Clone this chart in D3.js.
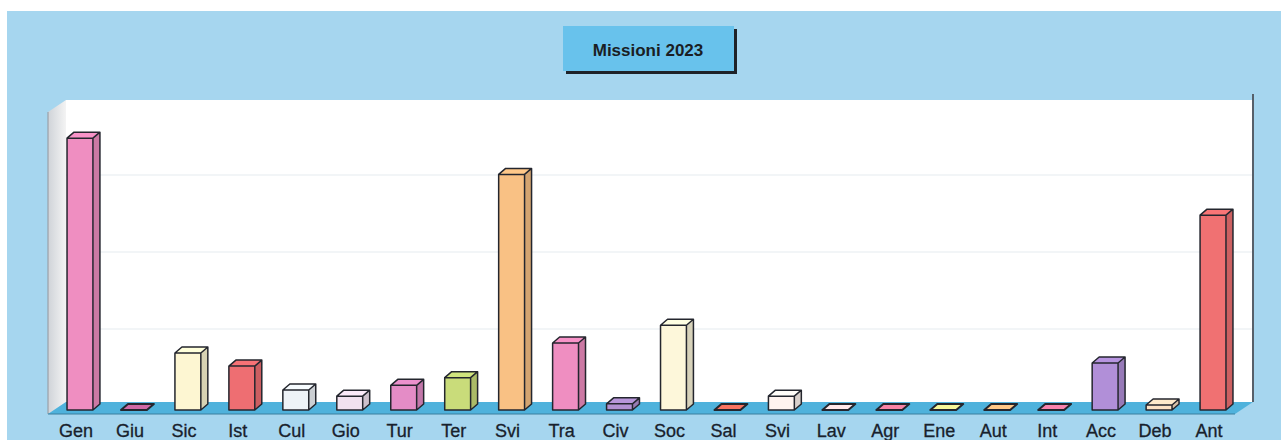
<!DOCTYPE html>
<html>
<head>
<meta charset="utf-8">
<script src="https://cdn.jsdelivr.net/npm/d3@7"></script>
<style>
  body { margin: 0; background: #fff; }
  svg { display: block; }
</style>
</head>
<body>
<div id="chart"></div>
<script>
// ----------------------------------------
// DATA
var categories = ["Gen", "Giu", "Sic", "Ist", "Cul", "Gio", "Tur", "Ter", "Svi", "Tra", "Civ",
  "Soc", "Sal", "Svi", "Lav", "Agr", "Ene", "Aut", "Int", "Acc", "Deb", "Ant"];
var values = [35.3, 0, 7.4, 5.7, 2.6, 1.8, 3.2, 4.2, 30.6, 8.7, 0.8,
  11, 0, 1.8, 0, 0, 0, 0, 0, 6.1, 0.65, 25.3];
var colors = ["#ef8ec1", "#c865a0", "#fdf6d2", "#ee6e72", "#eef3f8", "#f1e2f0", "#e48cc6", "#c9dc7a",
  "#f9c184", "#ef8ec1", "#b291d2", "#fdf7da", "#f0705e", "#fff4f0", "#fbe0e2", "#ef7fa0",
  "#eeee94", "#f8c182", "#ef7ea8", "#b18fd8", "#fde2c4", "#f07172"];
var gridValues = [10, 20, 30];
var title = "Missioni 2023";

// ----------------------------------------
// SETUP
var width = 1281;
var height = 440;

var svg = d3.select("#chart").append("svg")
  .attr("width", width)
  .attr("height", height);

// background panel
svg.append("rect")
  .attr("x", 7).attr("y", 11)
  .attr("width", width - 7).attr("height", height - 11)
  .attr("fill", "#a6d6ef");

// floor / wall geometry
var left = 48, right = 1235;
var floorFront = 414;
var depthX = 18, depthY = -12;
var wallTop = 100;

// scales
var x = d3.scaleBand()
  .domain(d3.range(categories.length))
  .range([left, right])
  .paddingInner(0.52)
  .paddingOuter(0.26);

var yBase = 410;
var y = d3.scaleLinear().domain([0, 40]).range([yBase, yBase - 308]);

// back wall
svg.append("rect")
  .attr("x", left + depthX).attr("y", wallTop)
  .attr("width", right - left).attr("height", floorFront + depthY - wallTop)
  .attr("fill", "#ffffff");

// faint grid lines on back wall
svg.selectAll(".grid")
  .data(gridValues)
  .enter().append("line")
  .attr("class", "grid")
  .attr("x1", left + depthX).attr("x2", right + depthX)
  .attr("y1", function (d) { return y(d) - 4; })
  .attr("y2", function (d) { return y(d) - 4; })
  .attr("stroke", "#eef2f4")
  .attr("stroke-width", 1.5);

// left wall
var wallGrad = svg.append("defs").append("linearGradient")
  .attr("id", "wallGrad").attr("x1", 0).attr("x2", 1).attr("y1", 0).attr("y2", 0);
wallGrad.append("stop").attr("offset", "0%").attr("stop-color", "#cfd3d8");
wallGrad.append("stop").attr("offset", "100%").attr("stop-color", "#f4f4f4");

svg.append("path")
  .attr("d", "M" + left + "," + (wallTop - depthY) +
    "L" + (left + depthX) + "," + wallTop +
    "L" + (left + depthX) + "," + (floorFront + depthY) +
    "L" + left + "," + floorFront + "Z")
  .attr("fill", "url(#wallGrad)");
svg.append("line")
  .attr("x1", left).attr("x2", left)
  .attr("y1", wallTop - depthY).attr("y2", floorFront)
  .attr("stroke", "#9aa0a8").attr("stroke-width", 1.2);

// right edge of back wall
svg.append("line")
  .attr("x1", right + depthX).attr("x2", right + depthX)
  .attr("y1", wallTop - 6).attr("y2", floorFront + depthY)
  .attr("stroke", "#56606a").attr("stroke-width", 2);

// floor
svg.append("path")
  .attr("d", "M" + left + "," + floorFront +
    "L" + (left + depthX) + "," + (floorFront + depthY) +
    "L" + (right + depthX) + "," + (floorFront + depthY) +
    "L" + right + "," + floorFront + "Z")
  .attr("fill", "#4fb2dc");
svg.append("line")
  .attr("x1", left).attr("x2", right)
  .attr("y1", floorFront).attr("y2", floorFront)
  .attr("stroke", "#3b7f9e").attr("stroke-width", 1.2);

// ----------------------------------------
// BARS
var bw = x.bandwidth();
var bdx = 7, bdy = -6;
var shift = 5;

var bars = svg.selectAll(".bar")
  .data(values)
  .enter().append("g")
  .attr("class", "bar");

bars.each(function (v, i) {
  var g = d3.select(this);
  var x0 = x(i) + shift;
  var x1 = x0 + bw;
  var yt = y(v);
  var c = colors[i];
  var side = d3.color(c).darker(0.45);
  var top = d3.color(c).brighter(0.1);

  if (v > 0) {
    // front face
    g.append("rect")
      .attr("x", x0).attr("y", yt)
      .attr("width", bw).attr("height", yBase - yt)
      .attr("fill", c);
    // side face
    g.append("path")
      .attr("d", "M" + x1 + "," + yt + "L" + (x1 + bdx) + "," + (yt + bdy) +
        "L" + (x1 + bdx) + "," + (yBase + bdy) + "L" + x1 + "," + yBase + "Z")
      .attr("fill", side);
  }
  // top face
  g.append("path")
    .attr("d", "M" + x0 + "," + yt + "L" + (x0 + bdx) + "," + (yt + bdy) +
      "L" + (x1 + bdx) + "," + (yt + bdy) + "L" + x1 + "," + yt + "Z")
    .attr("fill", top);

  // outline
  var outline = v > 0
    ? "M" + x0 + "," + yBase + "L" + x0 + "," + yt + "L" + (x0 + bdx) + "," + (yt + bdy) +
      "L" + (x1 + bdx) + "," + (yt + bdy) + "L" + (x1 + bdx) + "," + (yBase + bdy) +
      "L" + x1 + "," + yBase + "Z" +
      "M" + x0 + "," + yt + "L" + x1 + "," + yt + "L" + (x1 + bdx) + "," + (yt + bdy) +
      "M" + x1 + "," + yt + "L" + x1 + "," + yBase
    : "M" + x0 + "," + yt + "L" + (x0 + bdx) + "," + (yt + bdy) +
      "L" + (x1 + bdx) + "," + (yt + bdy) + "L" + x1 + "," + yt + "Z";
  g.append("path")
    .attr("d", outline)
    .attr("fill", "none")
    .attr("stroke", "#24262e")
    .attr("stroke-width", v > 0 ? 1.5 : 2)
    .attr("stroke-linejoin", "round");
});

// category labels
svg.selectAll(".label")
  .data(categories)
  .enter().append("text")
  .attr("class", "label")
  .attr("x", function (d, i) { return x(i) + bw / 2 + 1; })
  .attr("y", 437)
  .attr("text-anchor", "middle")
  .attr("font-family", "Liberation Sans, Arial, sans-serif")
  .attr("font-size", 18)
  .attr("fill", "#18212c")
  .attr("stroke", "#18212c")
  .attr("stroke-width", 0.3)
  .text(function (d) { return d; });

// ----------------------------------------
// TITLE BOX
svg.append("rect")
  .attr("x", 566).attr("y", 29)
  .attr("width", 171).attr("height", 45)
  .attr("fill", "#1e2228");
svg.append("rect")
  .attr("x", 563).attr("y", 26)
  .attr("width", 171).attr("height", 45)
  .attr("fill", "#68c2ec");
svg.append("text")
  .attr("x", 648).attr("y", 56)
  .attr("text-anchor", "middle")
  .attr("font-family", "Liberation Sans, Arial, sans-serif")
  .attr("font-weight", "bold")
  .attr("font-size", 17)
  .attr("fill", "#1a1e24")
  .text(title);
</script>
</body>
</html>
